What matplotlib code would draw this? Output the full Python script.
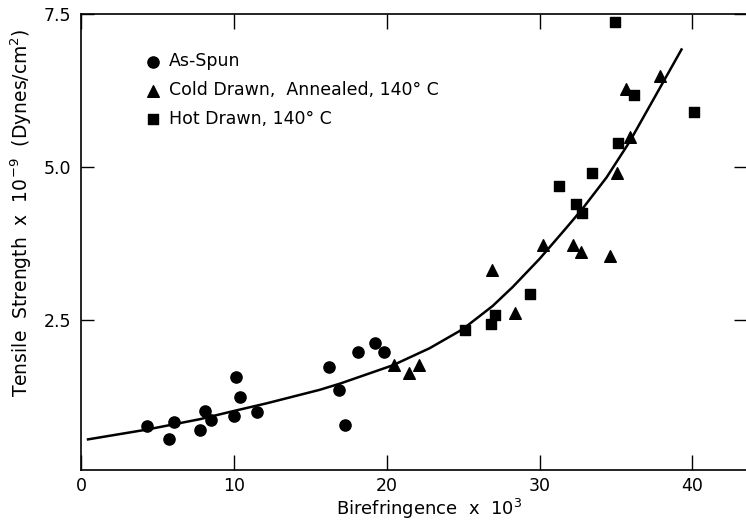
import matplotlib
matplotlib.use("Agg")
import matplotlib.pyplot as plt

plt.rcParams['font.family'] = ['DejaVu Sans']

# as-spun fibres
spun_x = [4.3, 5.75, 6.1, 7.8, 8.1, 8.5, 10.0, 10.15, 10.4, 11.5, 16.2, 16.9, 17.3, 18.1, 19.25, 19.8]
spun_y = [0.77, 0.56, 0.83, 0.70, 1.01, 0.86, 0.93, 1.57, 1.25, 0.99, 1.73, 1.35, 0.78, 1.98, 2.12, 1.98]

# cold drawn, annealed
cold_x = [20.45, 21.45, 22.1, 26.9, 28.4, 30.2, 32.2, 32.7, 34.6, 35.05, 35.9, 35.65, 37.85]
cold_y = [1.77, 1.63, 1.76, 3.32, 2.61, 3.73, 3.73, 3.61, 3.54, 4.90, 5.49, 6.28, 6.48]

# hot drawn
hot_x = [25.1, 26.8, 27.1, 29.4, 31.3, 32.35, 32.8, 33.4, 35.1, 36.2, 34.9, 40.1]
hot_y = [2.34, 2.43, 2.59, 2.93, 4.69, 4.39, 4.25, 4.90, 5.39, 6.18, 7.37, 5.90]

# fitted curve
fit_x = [0.46, 4.31, 7.78, 9.93, 12.16, 15.62, 16.93, 20.39, 22.81, 24.97, 26.93, 28.24,
         30.0, 31.76, 32.81, 34.38, 35.88, 37.84, 39.28]
fit_y = [0.55, 0.71, 0.88, 1.01, 1.14, 1.36, 1.46, 1.76, 2.04, 2.35, 2.73, 3.04,
         3.50, 4.01, 4.32, 4.83, 5.41, 6.28, 6.92]

fig = plt.figure(figsize=(7.46, 5.2), dpi=100)
ax = fig.add_axes([0.1086, 0.0962, 0.8914, 0.8769])

ax.plot(fit_x, fit_y, color='black', lw=1.8, zorder=2)
ax.scatter(spun_x, spun_y, marker='o', s=65, color='black', label='As-Spun', zorder=3)
ax.scatter(cold_x, cold_y, marker='^', s=70, color='black', label='Cold Drawn,  Annealed, 140° C', zorder=3)
ax.scatter(hot_x, hot_y, marker='s', s=55, color='black', label='Hot Drawn, 140° C', zorder=3)

ax.set_xlim(0, 43.5)
ax.set_ylim(0.05, 7.5)
ax.set_xticks([0, 10, 20, 30, 40])
ax.set_yticks([2.5, 5.0, 7.5])
ax.set_yticklabels(['2.5', '5.0', '7.5'])

ax.spines['right'].set_visible(False)
for s in ['left', 'bottom', 'top']:
    ax.spines[s].set_linewidth(1.2)
ax.tick_params(direction='in', width=1, top=True, right=True, labelsize=12.5)
ax.tick_params(axis='x', length=11, pad=5)
ax.tick_params(axis='y', length=9, pad=7)

ax.set_xlabel('Birefringence  x  10$^3$', fontsize=13)
ax.set_ylabel('Tensile  Strength  x  10$^{-9}$  (Dynes/cm$^2$)', fontsize=13.5)
ax.xaxis.set_label_coords(0.523, -0.058)
ax.yaxis.set_label_coords(-0.07, 0.565)

ax.legend(loc='upper left', bbox_to_anchor=(0.075, 0.95), frameon=False, fontsize=12.5,
          handlelength=0.8, handletextpad=0.5, labelspacing=0.62, scatterpoints=1)

fig.savefig('out.png', dpi=100)
